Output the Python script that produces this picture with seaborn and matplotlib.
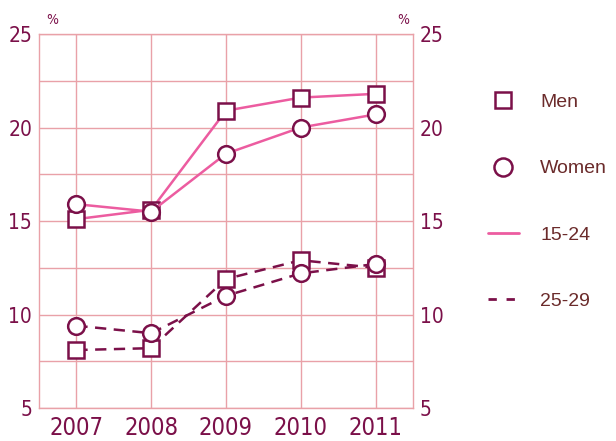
import matplotlib
matplotlib.use("Agg")
import matplotlib.pyplot as plt
from matplotlib.lines import Line2D
import pandas as pd
import seaborn as sns

# datos
years = [2007, 2008, 2009, 2010, 2011]
men_15_24 = [15.1, 15.6, 20.9, 21.6, 21.8]
women_15_24 = [15.9, 15.5, 18.6, 20.0, 20.7]
men_25_29 = [8.1, 8.2, 11.9, 12.9, 12.5]
women_25_29 = [9.4, 9.0, 11.0, 12.2, 12.7]
legend_labels = ["Men", "Women", "15-24", "25-29"]

rows = []
for sexo, edad, vals in [("Men", "15-24", men_15_24), ("Women", "15-24", women_15_24),
                         ("Men", "25-29", men_25_29), ("Women", "25-29", women_25_29)]:
    for y, v in zip(years, vals):
        rows.append({"year": y, "value": v, "sex": sexo, "age": edad})
df = pd.DataFrame(rows)

sns.set_style("white")
narrow_fp = {"family": ["DejaVu Sans"], "stretch": "condensed"}

pink = "#ec5ca0"
maroon = "#7b1049"
grid_c = "#e9a1a8"
txt_c = "#7b1049"
leg_txt = "#6b2b2b"

fig = plt.figure(figsize=(6.16, 4.41), dpi=100)
ax = fig.add_axes([0.0633, 0.0748, 0.6071, 0.8481])

markers = {"Men": "s", "Women": "o"}
msize = {"Men": 11, "Women": 12}
for (sexo, edad), g in df.groupby(["sex", "age"]):
    if edad == "15-24":
        sns.lineplot(data=g, x="year", y="value", ax=ax, color=pink, lw=1.8,
                     marker=markers[sexo], markersize=msize[sexo],
                     markerfacecolor="white", markeredgecolor=maroon,
                     markeredgewidth=1.8, zorder=3)
    else:
        sns.lineplot(data=g, x="year", y="value", ax=ax, color=maroon, lw=1.8,
                     linestyle=(0, (4.5, 3)),
                     marker=markers[sexo], markersize=msize[sexo],
                     markerfacecolor="white", markeredgecolor=maroon,
                     markeredgewidth=1.8, zorder=3)

ax.set_xlim(2006.5, 2011.5)
ax.set_ylim(5, 25)
ax.set_xticks(years)
ax.set_xticklabels([str(y) for y in years], fontsize=17, color=txt_c, **narrow_fp)
ax.set_yticks([5, 7.5, 10, 12.5, 15, 17.5, 20, 22.5, 25])
ax.set_yticklabels(["5", "", "10", "", "15", "", "20", "", "25"],
                   fontsize=15, color=txt_c, **narrow_fp)
ax.tick_params(axis="y", length=0, pad=5, left=True, right=True,
               labelleft=True, labelright=True)
ax.tick_params(axis="x", length=0, pad=6)
ax.set_xlabel("")
ax.set_ylabel("")
ax.grid(True, color=grid_c, lw=1)
for s in ax.spines.values():
    s.set_color(grid_c)
    s.set_linewidth(1)

fig.text(52 / 616, 1 - 20 / 441, "%", fontsize=10, color=txt_c,
         ha="center", va="center", **narrow_fp)
fig.text(403 / 616, 1 - 20 / 441, "%", fontsize=10, color=txt_c,
         ha="center", va="center", **narrow_fp)

handles = [
    Line2D([], [], ls="none", marker="s", markersize=12, markerfacecolor="white",
           markeredgecolor=maroon, markeredgewidth=1.8),
    Line2D([], [], ls="none", marker="o", markersize=13, markerfacecolor="white",
           markeredgecolor=maroon, markeredgewidth=1.8),
    Line2D([], [], color=pink, lw=2),
    Line2D([], [], color=maroon, lw=2, ls=(0, (3, 3.5))),
]
fig.legend(handles, legend_labels, loc="upper left", bbox_to_anchor=(470 / 616, 1 - 76 / 441),
           frameon=False, handlelength=1.6, handletextpad=1.1, labelspacing=2.5,
           prop={"family": ["Liberation Sans", "DejaVu Sans"], "size": 14},
           labelcolor=leg_txt)

fig.savefig("out.png", dpi=100)
